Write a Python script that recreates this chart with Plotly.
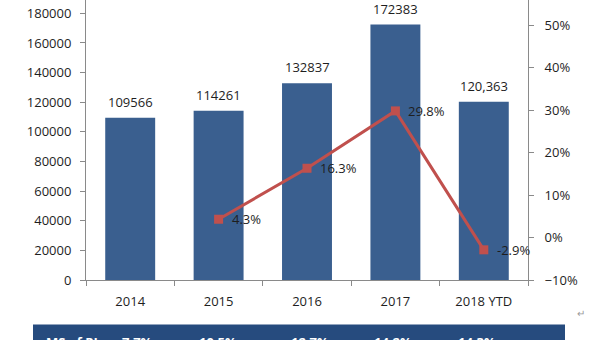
import plotly.graph_objects as go

# Sales volume by year with year-on-year growth
years = ["2014", "2015", "2016", "2017", "2018 YTD"]
volume = [109566, 114261, 132837, 172383, 120363]
growth_years = ["2015", "2016", "2017", "2018 YTD"]
growth = [0.043, 0.163, 0.298, -0.029]

# Market-share row shown under the chart
share_header = "MS of PL"
share = ["7.7%", "10.5%", "12.7%", "14.2%", "14.3%"]

left_ticks = list(range(0, 180001, 20000))
right_ticks = [-0.1, 0.0, 0.1, 0.2, 0.3, 0.4, 0.5]

BAR = "#3A5F8F"
LINE = "#C0504D"
STRIP = "#264B7E"
AXIS = "#8A8A8A"
FONT = "Open Sans"
TXT = "#1E1E1E"

W, H = 607, 340
ML, MR, MT, MB = 86, 79, 0, 60
PW, PH = W - ML - MR, H - MT - MB


def px_x(p):
    return (p - ML) / PW


def px_y(p):
    return (H - MB - p) / PH


def vol_label(i, v):
    return f"{v:,}" if years[i] == "2018 YTD" else str(v)


fig = go.Figure()
fig.add_trace(go.Bar(
    x=years, y=volume, marker=dict(color=BAR, line=dict(width=0)),
    width=0.565, yaxis="y", showlegend=False, hoverinfo="x+y",
))
fig.add_trace(go.Scatter(
    x=growth_years, y=growth, yaxis="y2", mode="lines+markers",
    line=dict(color=LINE, width=3),
    marker=dict(symbol="square", size=9, color=LINE),
    showlegend=False,
))

annotations = []
# category positions are given by index so that year strings are not read as numbers
for i, v in enumerate(volume):
    annotations.append(dict(
        x=i, y=v, xref="x", yref="y", text=vol_label(i, v), showarrow=False,
        yanchor="bottom", yshift=5, font=dict(family=FONT, size=13, color=TXT),
    ))
for c, g in zip(growth_years, growth):
    annotations.append(dict(
        x=years.index(c), y=g, xref="x", yref="y2", text=f"{g * 100:.1f}%",
        showarrow=False, xanchor="left", xshift=11, yanchor="middle",
        font=dict(family=FONT, size=13, color=TXT),
    ))

# share row text
share_x = [137, 218, 310, 393, 477]
annotations.append(dict(
    x=px_x(44), y=px_y(331), xref="paper", yref="paper", text=f"<b>{share_header}</b>",
    showarrow=False, xanchor="left", yanchor="top",
    font=dict(family=FONT, size=13, color="white"),
))
for sx, s in zip(share_x, share):
    annotations.append(dict(
        x=px_x(sx), y=px_y(331), xref="paper", yref="paper", text=f"<b>{s}</b>",
        showarrow=False, xanchor="center", yanchor="top",
        font=dict(family=FONT, size=13, color="white"),
    ))
annotations.append(dict(
    x=px_x(502), y=px_y(335), xref="paper", yref="paper", text="↵",
    showarrow=False, xanchor="center", yanchor="top",
    font=dict(family=FONT, size=9, color="#C8D3E3"),
))
annotations.append(dict(
    x=px_x(581), y=px_y(313), xref="paper", yref="paper", text="↵",
    showarrow=False, xanchor="center", yanchor="middle",
    font=dict(family=FONT, size=10, color="#9A9A9A"),
))

shapes = [dict(
    type="rect", xref="paper", yref="paper",
    x0=px_x(33), x1=px_x(565), y0=px_y(324.5), y1=px_y(360),
    fillcolor=STRIP, line=dict(width=0), layer="below",
)]

fig.update_layout(
    width=W, height=H,
    margin=dict(l=ML, r=MR, t=MT, b=MB, pad=0),
    paper_bgcolor="white", plot_bgcolor="white",
    font=dict(family=FONT, size=13, color=TXT),
    xaxis=dict(
        type="category", categoryorder="array", categoryarray=years,
        range=[-0.5, len(years) - 0.5], autorange=False,
        showline=True, linecolor=AXIS, linewidth=1, showgrid=False,
        ticks="outside", ticklen=5, tickcolor=AXIS, tickson="boundaries",
        ticklabelstandoff=9, tickfont=dict(family=FONT, size=13, color=TXT),
        zeroline=False,
    ),
    yaxis=dict(
        range=[0, 189000], autorange=False, tickvals=left_ticks, tickformat="d",
        showline=True, linecolor=AXIS, linewidth=1, showgrid=False,
        ticks="outside", ticklen=5, tickcolor=AXIS, zeroline=False,
        ticklabelstandoff=6, tickfont=dict(family=FONT, size=13, color=TXT),
    ),
    yaxis2=dict(
        range=[-0.1, 0.559], autorange=False, tickvals=right_ticks, tickformat=".0%",
        overlaying="y", side="right",
        showline=True, linecolor=AXIS, linewidth=1, showgrid=False,
        ticks="outside", ticklen=5, tickcolor=AXIS, zeroline=False,
        ticklabelstandoff=8, tickfont=dict(family=FONT, size=13, color=TXT),
    ),
    annotations=annotations,
    shapes=shapes,
)

fig.write_html("out.html")
